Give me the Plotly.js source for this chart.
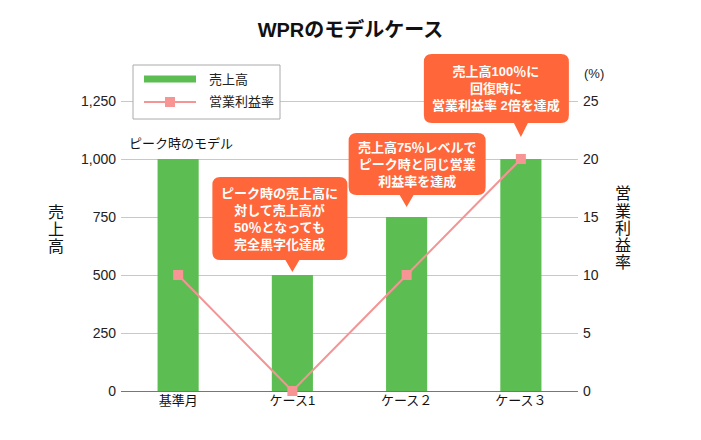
<!DOCTYPE html>
<html>
<head>
<meta charset="utf-8">
<script src="https://cdn.plot.ly/plotly-3.0.1.min.js"></script>
<style>
  body { margin: 0; background: #fff; }
  #chart { width: 701px; height: 440px; }
</style>
</head>
<body>
<div id="chart"></div>
<script>
// data
const categories = ['基準月', 'ケース1', 'ケース２', 'ケース３'];
const sales = [1000, 500, 750, 1000];        // 売上高
const margin = [10, 0, 10, 20];              // 営業利益率 (%)
const salesTicks = [0, 250, 500, 750, 1000, 1250];
const marginTicks = [0, 5, 10, 15, 20, 25];

// callouts: which category they point at, and their text lines
const calloutIdx = [1, 2, 3];
const calloutText = [
  'ピーク時の売上高に<br>対して売上高が<br>50％となっても<br>完全黒字化達成',
  '売上高75％レベルで<br>ピーク時と同じ営業<br>利益率を達成',
  '売上高100％に<br>回復時に<br>営業利益率 2倍を達成'
];
// box geometry in px relative to the bar top: left, right, top, bottom, tip
const calloutBox = [
  [-80, 55, 98, 15, 3],
  [-58, 79, 84, 22, 10],
  [-97, 48, 105, 36, 22]
];

const FONT = 'Liberation Sans, Arial, "Noto Sans CJK JP", sans-serif';
const ORANGE = '#FF663A';
const GREEN = '#5CBE52';
const PINK = '#F49494';
const plotLeft = 121, plotW = 457;
const plotTop = 40, plotBottom = 391;
const yMax = 1250 * (plotBottom - plotTop) / 290;
const y2Max = 25 * (plotBottom - plotTop) / 290;

// pixel -> paper helpers for the decorations outside the data
const px = v => (v - plotLeft) / plotW;
const py = v => (plotBottom - v) / (plotBottom - plotTop);

function calloutPath(b) {
  let [L, R, T, B, P] = b;
  let r = 8, h = 7;
  return `M${L + r},${T} H${R - r} Q${R},${T} ${R},${T - r} V${B + r} Q${R},${B} ${R - r},${B} ` +
         `H${h} L0,${P} L${-h},${B} H${L + r} Q${L},${B} ${L},${B + r} V${T - r} Q${L},${T} ${L + r},${T} Z`;
}

let traces = [
  {
    type: 'bar',
    name: '売上高',
    x: categories,
    y: sales,
    width: 0.36,
    marker: { color: GREEN },
    yaxis: 'y'
  },
  {
    type: 'scatter',
    mode: 'lines+markers',
    name: '営業利益率',
    x: categories,
    y: margin,
    line: { color: PINK, width: 2 },
    marker: { symbol: 'square', size: 10, color: '#F79595' },
    cliponaxis: false,
    yaxis: 'y2'
  }
];

let shapes = [];
let annotations = [];

calloutIdx.forEach((ci, k) => {
  let b = calloutBox[k];
  shapes.push({
    type: 'path',
    xref: 'x', yref: 'y',
    xsizemode: 'pixel', ysizemode: 'pixel',
    xanchor: categories[ci], yanchor: sales[ci],
    path: calloutPath(b),
    fillcolor: ORANGE,
    line: { width: 0 },
    layer: 'above'
  });
  annotations.push({
    xref: 'x', yref: 'y',
    x: categories[ci], y: sales[ci],
    xshift: (b[0] + b[1]) / 2,
    yshift: (b[2] + b[3]) / 2,
    xanchor: 'center', yanchor: 'middle',
    showarrow: false,
    text: '<b>' + calloutText[k] + '</b>',
    font: { family: FONT, size: 13, color: '#fff' }
  });
});

// label above the first bar
annotations.push({
  xref: 'x', yref: 'y',
  x: categories[0], y: sales[0],
  yshift: 16, xshift: 3,
  showarrow: false,
  text: 'ピーク時のモデル',
  font: { family: FONT, size: 13, color: '#111' }
});

// legend drawn by hand so the bar key can be a wide strip like the original
shapes.push({
  type: 'rect', xref: 'paper', yref: 'paper',
  x0: px(133), x1: px(280), y0: py(65), y1: py(119),
  fillcolor: '#fff', line: { color: '#AAAAAA', width: 1 }, layer: 'above'
});
shapes.push({
  type: 'rect', xref: 'paper', yref: 'paper',
  x0: px(144), x1: px(196), y0: py(75.5), y1: py(82.5),
  fillcolor: GREEN, line: { width: 0 }, layer: 'above'
});
shapes.push({
  type: 'line', xref: 'paper', yref: 'paper',
  x0: px(144), x1: px(196), y0: py(102), y1: py(102),
  line: { color: PINK, width: 2 }, layer: 'above'
});
shapes.push({
  type: 'rect', xref: 'paper', yref: 'paper',
  x0: px(165), x1: px(175), y0: py(97), y1: py(107),
  fillcolor: '#F79595', line: { width: 0 }, layer: 'above'
});
[[traces[0].name, 79], [traces[1].name, 102]].forEach(([name, yy]) => {
  annotations.push({
    xref: 'paper', yref: 'paper',
    x: px(207), y: py(yy),
    xanchor: 'left', yanchor: 'middle',
    showarrow: false,
    text: name,
    font: { family: FONT, size: 13, color: '#222' }
  });
});

// vertical axis titles, one character per line
function stackTitle(str, xPx, yCenterPx, step, size) {
  let chars = Array.from(str);
  chars.forEach((c, i) => {
    let yPx = yCenterPx + (i - (chars.length - 1) / 2) * step;
    annotations.push({
      xref: 'paper', yref: 'paper',
      x: px(xPx), y: py(yPx),
      xanchor: 'center', yanchor: 'middle',
      showarrow: false,
      text: c,
      font: { family: FONT, size: size, color: '#111' }
    });
  });
}
stackTitle('売上高', 56, 229, 17, 16);
stackTitle('営業利益率', 623, 228, 17, 16);

annotations.push({
  xref: 'paper', yref: 'paper',
  x: px(594), y: py(74),
  xanchor: 'center', yanchor: 'middle',
  showarrow: false,
  text: '(%)',
  font: { family: FONT, size: 13, color: '#222' }
});

let layout = {
  width: 701,
  height: 440,
  margin: { l: plotLeft, r: 701 - plotLeft - plotW, t: plotTop, b: 440 - plotBottom },
  paper_bgcolor: '#fff',
  plot_bgcolor: '#fff',
  font: { family: FONT, size: 14, color: '#222' },
  title: {
    text: '<b>WPRのモデルケース</b>',
    font: { family: FONT, size: 20, color: '#111' },
    x: 0.5, xanchor: 'center',
    y: 1 - 30 / 440, yanchor: 'middle', yref: 'container'
  },
  showlegend: false,
  bargap: 0.64,
  xaxis: {
    type: 'category',
    range: [-0.5, 3.5],
    showgrid: false,
    showline: false,
    ticks: '',
    tickfont: { family: FONT, size: 13, color: '#111' },
    fixedrange: true
  },
  yaxis: {
    range: [0, yMax],
    tickvals: salesTicks,
    ticktext: salesTicks.map(v => v.toLocaleString('en-US')),
    showgrid: true,
    gridcolor: '#C8C8C8',
    gridwidth: 1,
    zeroline: true,
    zerolinecolor: '#777',
    zerolinewidth: 1,
    ticks: '',
    ticklabelstandoff: 4,
    tickfont: { family: FONT, size: 14, color: '#222' },
    fixedrange: true
  },
  yaxis2: {
    overlaying: 'y',
    side: 'right',
    range: [0, y2Max],
    tickvals: marginTicks,
    showgrid: false,
    zeroline: false,
    ticks: '',
    ticklabelstandoff: 4,
    tickfont: { family: FONT, size: 14, color: '#222' },
    fixedrange: true
  },
  shapes: shapes,
  annotations: annotations
};

Plotly.newPlot('chart', traces, layout, { displayModeBar: false, staticPlot: true });
</script>
</body>
</html>
